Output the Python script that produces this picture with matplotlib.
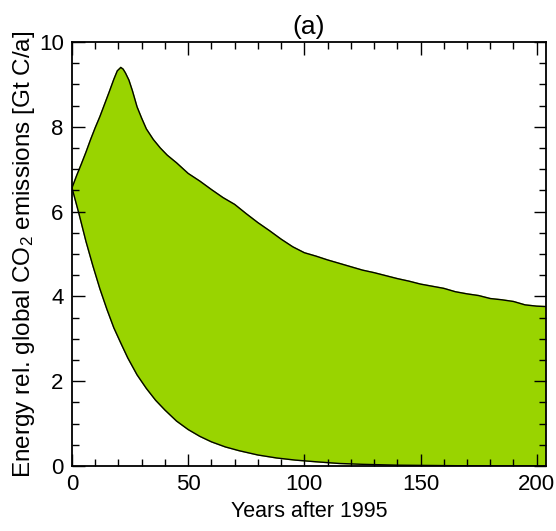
import matplotlib
matplotlib.use("Agg")
import matplotlib.pyplot as plt
from matplotlib.ticker import MultipleLocator

plt.rcParams['font.family'] = ['Liberation Sans', 'DejaVu Sans']
plt.rcParams['mathtext.fontset'] = 'custom'
plt.rcParams['mathtext.rm'] = 'Liberation Sans'
plt.rcParams['mathtext.it'] = 'Liberation Sans'

# upper edge of the emission range
years_hi = [0, 2, 4, 6, 8, 10, 12, 14, 16, 18, 19.5, 21, 22, 23, 24.5, 26, 28, 30, 32,
            35, 38, 41, 45, 50, 55, 60, 65, 70, 75, 80, 85, 90, 95, 100, 105, 110,
            115, 120, 125, 130, 135, 140, 145, 150, 155, 160, 165, 170, 175, 180,
            185, 190, 195, 200, 204]
emis_hi = [6.56, 6.85, 7.12, 7.4, 7.7, 7.98, 8.24, 8.53, 8.82, 9.12, 9.32, 9.4, 9.36,
           9.27, 9.1, 8.85, 8.47, 8.2, 7.95, 7.7, 7.5, 7.33, 7.15, 6.9, 6.72, 6.52,
           6.33, 6.17, 5.95, 5.74, 5.55, 5.35, 5.17, 5.03, 4.95, 4.86, 4.78, 4.7,
           4.62, 4.56, 4.49, 4.42, 4.36, 4.29, 4.24, 4.19, 4.11, 4.06, 4.02, 3.95,
           3.92, 3.88, 3.8, 3.77, 3.76]

# lower edge
years_lo = [0, 3, 6, 9, 12, 15, 18, 21, 24, 28, 32, 36, 40, 45, 50, 55, 60, 66, 72,
            80, 88, 96, 105, 115, 125, 140, 160, 180, 204]
emis_lo = [6.56, 5.95, 5.3, 4.72, 4.18, 3.7, 3.26, 2.9, 2.55, 2.15, 1.83, 1.55, 1.32,
           1.06, 0.86, 0.7, 0.57, 0.45, 0.36, 0.26, 0.19, 0.14, 0.1, 0.06, 0.04,
           0.02, 0.01, 0.0, 0.0]

fig = plt.figure(figsize=(5.56, 5.31), dpi=100)
ax = fig.add_axes([0.1295, 0.1224, 0.8525, 0.7985])

poly_x = years_hi + years_lo[::-1]
poly_y = emis_hi + emis_lo[::-1]
ax.fill(poly_x, poly_y, color='#99d400', zorder=1)
ax.plot(years_hi, emis_hi, color='black', lw=1.0, zorder=2)
ax.plot(years_lo, emis_lo, color='black', lw=1.0, zorder=2)

ax.set_xlim(0, 204)
ax.set_ylim(0, 10)
ax.xaxis.set_major_locator(MultipleLocator(50))
ax.xaxis.set_minor_locator(MultipleLocator(10))
ax.yaxis.set_major_locator(MultipleLocator(2))
ax.yaxis.set_minor_locator(MultipleLocator(0.5))
ax.tick_params(which='both', direction='in', top=True, right=True, labelsize=16,
               width=1.0)
ax.tick_params(which='major', length=9, pad=6)
ax.tick_params(which='minor', length=5)
for s in ax.spines.values():
    s.set_linewidth(1.3)

ax.set_xlabel('Years after 1995', fontsize=15.5, labelpad=4)
ax.set_ylabel(r'Energy rel. global CO$_\mathregular{2}$ emissions [Gt C/a]',
              fontsize=17.5, labelpad=1)
ax.set_title('(a)', fontsize=19, pad=6)

fig.savefig('out.png', dpi=100)
